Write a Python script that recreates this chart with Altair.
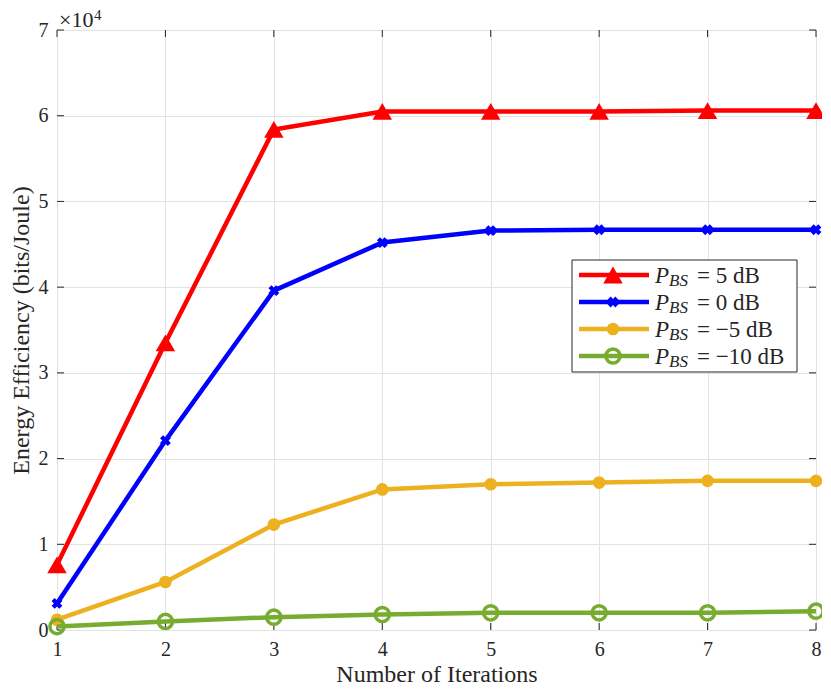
import altair as alt
import pandas as pd

iterations = [1, 2, 3, 4, 5, 6, 7, 8]
ee_p5 = [0.76, 3.35, 5.84, 6.05, 6.05, 6.05, 6.06, 6.06]
ee_p0 = [0.31, 2.21, 3.96, 4.52, 4.66, 4.67, 4.67, 4.67]
ee_m5 = [0.12, 0.56, 1.23, 1.64, 1.70, 1.72, 1.74, 1.74]
ee_m10 = [0.04, 0.10, 0.15, 0.18, 0.20, 0.20, 0.20, 0.22]
x_ticks = [1, 2, 3, 4, 5, 6, 7, 8]
y_ticks = [0, 1, 2, 3, 4, 5, 6, 7]
legend_values = ["5 dB", "0 dB", "\u22125 dB", "\u221210 dB"]

W, H = 759, 600
FONT = "Liberation Serif"
FRAME = "#262626"
TXT = "#262626"

xs = alt.Scale(domain=[1, 8], nice=False)
ys = alt.Scale(domain=[0, 7], nice=False)

XAX = alt.Axis(values=x_ticks, format="d", grid=True, ticks=False, domain=False,
               labelFontSize=20, labelFont=FONT, labelColor=TXT, labelPadding=9,
               labelFlush=False,
               titleFont=FONT, titleFontSize=24, titleFontWeight="normal",
               titleColor=TXT, titlePadding=3, gridColor="#e3e3e3")
YAX = alt.Axis(values=y_ticks, format="d", grid=True, ticks=False, domain=False,
               labelFontSize=20, labelFont=FONT, labelColor=TXT, labelPadding=9,
               labelFlush=False,
               titleFont=FONT, titleFontSize=24, titleFontWeight="normal",
               titleColor=TXT, titlePadding=5, gridColor="#e3e3e3")


def X():
    return alt.X("x:Q", scale=xs, title="Number of Iterations", axis=XAX)


def Y():
    return alt.Y("y:Q", scale=ys, title="Energy Efficiency (bits/Joule)", axis=YAX)


series = [
    (ee_p5, "#FF0000", "triangle-up", True, 380, 0, 3),
    (ee_p0, "#0000FF", "cross", True, 120, 45, 1),
    (ee_m5, "#EDB120", "circle", True, 160, 0, 1),
    (ee_m10, "#77AC30", "circle", False, 200, 0, 3.5),
]

one = pd.DataFrame({"a": [0]})

layers = []

# inward ticks
xt = pd.DataFrame({"x": x_ticks})
yt = pd.DataFrame({"y": y_ticks})
for y0, y1 in [(H, H - 7), (0, 7)]:
    layers.append(alt.Chart(xt).mark_rule(color=FRAME, strokeWidth=1).encode(
        x=X(), y=alt.value(y0), y2=alt.value(y1)))
for x0, x1 in [(0, 7), (W, W - 7)]:
    layers.append(alt.Chart(yt).mark_rule(color=FRAME, strokeWidth=1).encode(
        y=Y(), x=alt.value(x0), x2=alt.value(x1)))

for vals, color, shape, filled, size, ang, sw in series:
    df = pd.DataFrame({"x": iterations, "y": vals})
    layers.append(alt.Chart(df).mark_line(color=color, strokeWidth=4.5).encode(x=X(), y=Y()))
    if filled:
        pt = alt.Chart(df).mark_point(shape=shape, filled=True, color=color, size=size,
                                      angle=ang, strokeWidth=sw, opacity=1)
    else:
        pt = alt.Chart(df).mark_point(shape=shape, filled=False, color=color, size=size,
                                      strokeWidth=sw, opacity=1)
    layers.append(pt.encode(x=X(), y=Y()))

# x10^4 label
layers.append(alt.Chart(one).mark_text(text="\u00d710", font=FONT, fontSize=22, align="left",
                                       baseline="alphabetic", color=TXT).encode(
    x=alt.value(2), y=alt.value(-3)))
layers.append(alt.Chart(one).mark_text(text="4", font=FONT, fontSize=15, align="left",
                                       baseline="alphabetic", color=TXT).encode(
    x=alt.value(37), y=alt.value(-10)))

# legend
lx0, lx1, ly0, ly1 = 515, 740, 230, 342
layers.append(alt.Chart(one).mark_rect(fill="white", stroke=FRAME, strokeWidth=1).encode(
    x=alt.value(lx0), x2=alt.value(lx1), y=alt.value(ly0), y2=alt.value(ly1)))
rows = [245, 272, 299, 326]
for (vals, color, shape, filled, size, ang, sw), ry, lab in zip(series, rows, legend_values):
    layers.append(alt.Chart(one).mark_rule(color=color, strokeWidth=4.5).encode(
        x=alt.value(522), x2=alt.value(592), y=alt.value(ry)))
    if filled:
        m = alt.Chart(one).mark_point(shape=shape, filled=True, color=color, size=size,
                                      angle=ang, strokeWidth=sw, opacity=1)
    else:
        m = alt.Chart(one).mark_point(shape=shape, filled=False, color=color, size=size,
                                      strokeWidth=sw, opacity=1)
    layers.append(m.encode(x=alt.value(556), y=alt.value(ry)))
    layers.append(alt.Chart(one).mark_text(text="P", font=FONT, fontSize=23, fontStyle="italic",
                                           align="left", baseline="alphabetic", color=TXT).encode(
        x=alt.value(598), y=alt.value(ry + 8)))
    layers.append(alt.Chart(one).mark_text(text="BS", font=FONT, fontSize=17, fontStyle="italic",
                                           align="left", baseline="alphabetic", color=TXT).encode(
        x=alt.value(612), y=alt.value(ry + 11)))
    layers.append(alt.Chart(one).mark_text(text="= " + lab, font=FONT, fontSize=23,
                                           align="left", baseline="alphabetic", color=TXT).encode(
        x=alt.value(640), y=alt.value(ry + 8)))

chart = alt.layer(*layers).properties(
    width=W, height=H,
    autosize=alt.AutoSizeParams(type="none"),
    padding={"left": 49, "top": 22, "right": 6, "bottom": 60},
).configure_view(stroke=FRAME, strokeWidth=1).configure(background="white")

chart.save("out.html", embed_options={"renderer": "svg", "actions": False})
